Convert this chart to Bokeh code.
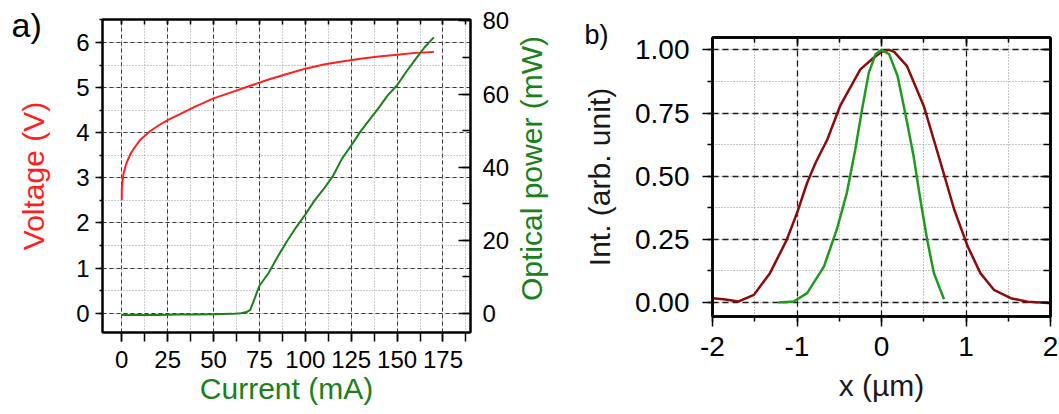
import math
from bokeh.plotting import figure
from bokeh.models import (Range1d, LinearAxis, SingleIntervalTicker, Title, GridBox,
                          NumeralTickFormatter, CustomJSTickFormatter)
from bokeh.layouts import column
from bokeh.core.properties import value
from bokeh.embed import file_html
from bokeh.resources import INLINE

FONT = "Liberation Sans"

# ---------------- Panel a data ----------------
current_v = [0, 0, 0.5, 1, 2, 3, 5, 7.5, 10, 15, 20, 25, 30, 40, 50, 60, 70, 80, 90,
             100, 110, 120, 130, 140, 150, 160, 170]
voltage = [2.50, 2.75, 2.95, 3.10, 3.25, 3.37, 3.55, 3.70, 3.84, 4.02, 4.16, 4.28, 4.38,
           4.58, 4.76, 4.90, 5.04, 5.18, 5.30, 5.42, 5.51, 5.58, 5.64, 5.69, 5.73, 5.77, 5.79]

current_p = [0, 10, 20, 30, 40, 50, 60, 65, 68, 70, 72, 75, 80, 85, 90, 95, 100, 105, 110,
             115, 120, 125, 130, 135, 140, 145, 150, 155, 160, 165, 170]
power = [-0.5, -0.5, -0.5, -0.4, -0.4, -0.3, -0.2, 0.0, 0.3, 0.9, 3.5, 7.5, 11.0, 15.5, 19.7,
         23.5, 27.0, 30.8, 34.0, 37.5, 42.3, 45.9, 49.7, 53.0, 56.2, 59.7, 62.4, 66.1, 69.5,
         72.8, 75.5]

# ---------------- Panel b data ----------------
x_red = [-2.0, -1.87, -1.69, -1.51, -1.32, -1.12, -1.0, -0.88, -0.78, -0.64, -0.49, -0.25,
         -0.09, 0.0, 0.09, 0.15, 0.30, 0.50, 0.70, 0.86, 1.02, 1.17, 1.33, 1.53, 1.73, 1.89, 2.0]
int_red = [0.017, 0.013, 0.004, 0.030, 0.116, 0.249, 0.354, 0.474, 0.553, 0.646, 0.778, 0.923,
           0.970, 0.992, 1.0, 0.992, 0.937, 0.778, 0.553, 0.368, 0.222, 0.116, 0.050, 0.017,
           0.003, 0.0, -0.003]

x_green = [-1.22, -1.04, -0.88, -0.68, -0.53, -0.41, -0.31, -0.23, -0.15, -0.07, 0.0, 0.09,
           0.19, 0.28, 0.38, 0.46, 0.54, 0.62, 0.74]
int_green = [0.0, 0.004, 0.037, 0.143, 0.288, 0.434, 0.606, 0.765, 0.910, 0.983, 1.0, 0.983,
             0.897, 0.751, 0.579, 0.407, 0.249, 0.116, 0.013]

panel_labels = ["a)", "b)"]
power_title = "Optical power (mW)"

RED = "#ff1f1f"
GREEN_A = "#1b7f1b"
DARKRED = "#8b0c0c"
GREEN_B = "#1f9a1f"

W_A, W_B, H = 549, 510, 414


def style_common(ax, size):
    ax.axis_line_color = "black"
    ax.axis_line_width = 2
    ax.major_tick_line_color = "black"
    ax.major_tick_line_width = 1.5
    ax.minor_tick_line_color = "black"
    ax.minor_tick_line_width = 1.5
    ax.major_label_text_font = FONT
    ax.major_label_text_font_size = size
    ax.major_label_text_color = "black"
    ax.axis_label_text_font = FONT
    ax.axis_label_text_font_style = "normal"


def blank_axis(ax):
    ax.formatter = CustomJSTickFormatter(code="return ''")
    ax.major_label_text_font_size = "1px"
    ax.major_label_standoff = 0
    ax.major_tick_out = 0
    ax.minor_tick_out = 0
    ax.axis_label = None


# ================= Panel a =================
pa = figure(width=W_A, height=H, x_range=Range1d(-10.5, 190), y_range=Range1d(-0.43, 6.51),
            output_backend="svg", toolbar_location=None,
            min_border_left=102, min_border_right=79, min_border_top=19, min_border_bottom=82)
pa.extra_y_ranges = {"pow": Range1d(-5.3, 80.4)}
pa.outline_line_color = "black"
pa.outline_line_width = 2

tx_a = SingleIntervalTicker(interval=25, num_minor_ticks=2)
ty_a = SingleIntervalTicker(interval=1, num_minor_ticks=2)
tp_a = SingleIntervalTicker(interval=20, num_minor_ticks=2)

bx = pa.below[0]
bx.ticker = tx_a
style_common(bx, "24px")
bx.major_tick_out = 9
bx.major_tick_in = 0
bx.minor_tick_out = 9
bx.minor_tick_in = 0
bx.major_label_standoff = 9
bx.axis_label = "Current (mA)"
bx.axis_label_text_font_size = "30px"
bx.axis_label_text_color = GREEN_A
bx.axis_label_standoff = 1

ly = pa.left[0]
ly.ticker = ty_a
style_common(ly, "24px")
ly.major_tick_out = 7
ly.major_tick_in = 0
ly.minor_tick_out = 3
ly.minor_tick_in = 0
ly.major_label_standoff = 6
ly.axis_label = "Voltage (V)"
ly.axis_label_text_font_size = "30px"
ly.axis_label_text_color = RED
ly.axis_label_standoff = 23

top_a = LinearAxis(ticker=tx_a)
style_common(top_a, "1px")
blank_axis(top_a)
top_a.major_tick_in = 5
top_a.minor_tick_in = 5
pa.add_layout(top_a, "above")

ry = LinearAxis(y_range_name="pow", ticker=tp_a)
style_common(ry, "24px")
ry.major_tick_in = 12
ry.major_tick_out = 0
ry.minor_tick_in = 8
ry.minor_tick_out = 0
ry.major_label_standoff = 12
pa.add_layout(ry, "right")

for g, t in ((pa.xgrid[0], tx_a), (pa.ygrid[0], ty_a)):
    g.ticker = t
    g.grid_line_color = "#3a3a3a"
    g.grid_line_dash = "4 3"
    g.grid_line_width = 1
    g.minor_grid_line_color = "#9a9a9a"
    g.minor_grid_line_dash = "1 2"
    g.minor_grid_line_width = 1

pa.line(current_v, voltage, line_color=RED, line_width=2, line_join="round")
pa.line(current_p, power, line_color=GREEN_A, line_width=2, line_join="round", y_range_name="pow")

# transparent overlay (pixel space of panel a) carrying the panel tag and right-axis title
ov_a = figure(width=W_A, height=H, x_range=Range1d(0, W_A), y_range=Range1d(0, H),
              output_backend="svg", toolbar_location=None, x_axis_location=None,
              y_axis_location=None, min_border=0, align="start")
ov_a.outline_line_color = None
ov_a.background_fill_color = None
ov_a.border_fill_color = None
for g in list(ov_a.xgrid) + list(ov_a.ygrid):
    g.visible = False
    g.grid_line_color = None
ov_a.text(x=[11], y=[H - 5], text=[panel_labels[0]], text_font=value(FONT),
          text_font_size="34px", text_baseline="top", text_align="left", text_color="black")
ov_a.text(x=[531], y=[H - 168], text=[power_title], angle=math.pi / 2, text_font=value(FONT),
          text_font_size="30px", text_baseline="middle", text_align="center", text_color=GREEN_A)

# ================= Panel b =================
pb = figure(width=W_B, height=H, x_range=Range1d(-2, 2), y_range=Range1d(-0.0556, 1.049),
            output_backend="svg", toolbar_location=None,
            min_border_left=163, min_border_right=9, min_border_top=37, min_border_bottom=98)
pb.outline_line_color = "black"
pb.outline_line_width = 2.5

tx_b = SingleIntervalTicker(interval=1, num_minor_ticks=2)
ty_b = SingleIntervalTicker(interval=0.25, num_minor_ticks=2)

bxb = pb.below[0]
bxb.ticker = tx_b
bxb.formatter = NumeralTickFormatter(format="0")
style_common(bxb, "28px")
bxb.axis_line_width = 2.5
bxb.major_tick_out = 10
bxb.major_tick_in = 0
bxb.minor_tick_out = 5
bxb.minor_tick_in = 0
bxb.major_label_standoff = 10
bxb.axis_label = "x (µm)"
bxb.axis_label_text_font_size = "30px"
bxb.axis_label_text_color = "#1a1a1a"
bxb.axis_label_standoff = 10

lyb = pb.left[0]
lyb.ticker = ty_b
lyb.formatter = NumeralTickFormatter(format="0.00")
style_common(lyb, "28px")
lyb.axis_line_width = 2.5
lyb.major_tick_out = 10
lyb.major_tick_in = 0
lyb.minor_tick_out = 5
lyb.minor_tick_in = 0
lyb.major_label_standoff = 13
lyb.axis_label = "Int. (arb. unit)"
lyb.axis_label_text_font_size = "30px"
lyb.axis_label_text_color = "#1a1a1a"
lyb.axis_label_standoff = 16

top_b = LinearAxis(ticker=tx_b)
style_common(top_b, "1px")
blank_axis(top_b)
top_b.axis_line_width = 2.5
top_b.major_tick_in = 8
top_b.minor_tick_in = 5
pb.add_layout(top_b, "above")

pb.add_layout(Title(text=panel_labels[1], align="left", offset=-128, standoff=-24,
                    vertical_align="bottom", text_font=FONT, text_font_size="27px",
                    text_font_style="normal", text_color="black"), "above")

right_b = LinearAxis(ticker=ty_b)
style_common(right_b, "1px")
blank_axis(right_b)
right_b.axis_line_width = 2.5
right_b.major_tick_in = 10
right_b.minor_tick_in = 7
pb.add_layout(right_b, "right")

for g, t in ((pb.xgrid[0], tx_b), (pb.ygrid[0], ty_b)):
    g.ticker = t
    g.grid_line_color = "#1a1a1a"
    g.grid_line_dash = "6 4"
    g.grid_line_width = 1.3
    g.minor_grid_line_color = "#8a8a8a"
    g.minor_grid_line_dash = "1 2"
    g.minor_grid_line_width = 1

pb.line(x_red, int_red, line_color=DARKRED, line_width=2.5, line_join="round")
pb.line(x_green, int_green, line_color=GREEN_B, line_width=2.5, line_join="round")

layout = GridBox(children=[(column(pa), 0, 0), (column(pb), 0, 1), (ov_a, 0, 0)])
open("out.html", "w").write(file_html(layout, INLINE))
